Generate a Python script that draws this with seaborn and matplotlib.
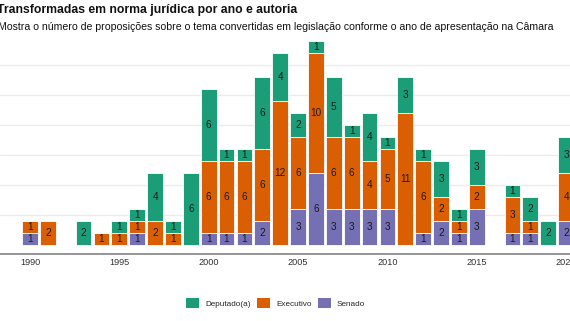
import numpy as np
import pandas as pd
import matplotlib
matplotlib.use("Agg")
import matplotlib.pyplot as plt
from matplotlib.patches import Patch
import seaborn as sns

# ---- data ----
anos = [1990, 1991, 1993, 1994, 1995, 1996, 1997, 1998, 1999, 2000, 2001, 2002,
        2003, 2004, 2005, 2006, 2007, 2008, 2009, 2010, 2011, 2012, 2013, 2014,
        2015, 2017, 2018, 2019, 2020]
senado    = [1, 0, 0, 0, 0, 1, 0, 0, 0, 1, 1, 1, 2, 0, 3, 6, 3, 3, 3, 3, 0, 1, 2, 1, 3, 1, 1, 0, 2]
executivo = [1, 2, 0, 1, 1, 1, 2, 1, 0, 6, 6, 6, 6, 12, 6, 10, 6, 6, 4, 5, 11, 6, 2, 1, 2, 3, 1, 0, 4]
deputado  = [0, 0, 2, 0, 1, 1, 4, 1, 6, 6, 1, 1, 6, 4, 2, 1, 5, 1, 4, 1, 3, 1, 3, 1, 3, 1, 2, 2, 3]

autorias = ["Deputado(a)", "Executivo", "Senado"]
cores = {"Deputado(a)": "#1b9e77", "Executivo": "#d95f02", "Senado": "#7570b3"}
x_ticks = [1990, 1995, 2000, 2005, 2010, 2015, 2020]

titulo = "Transformadas em norma jurídica por ano e autoria"
subtitulo = ("Mostra o número de proposições sobre o tema convertidas em legislação "
             "conforme o ano de apresentação na Câmara")

rows = []
for a, s, e, d in zip(anos, senado, executivo, deputado):
    for lab, v in (("Deputado(a)", d), ("Executivo", e), ("Senado", s)):
        if v > 0:
            rows.append({"ano": a, "autoria": lab, "n": v})
df = pd.DataFrame(rows)

# ---- figure ----
sns.set_theme(style="white")
plt.rcParams["font.family"] = ["Liberation Sans", "DejaVu Sans"]

W, H = 570, 321
fig = plt.figure(figsize=(W / 100, H / 100), dpi=100)

def px(x, y):
    return x / W, 1 - y / H

ax_bottom_px, ax_top_px = 254, 37
zero_px, unit_px = 244.5, 12.0
ax = fig.add_axes([0, 1 - ax_bottom_px / H, 1, (ax_bottom_px - ax_top_px) / H])

sns.histplot(data=df, x="ano", weights="n", hue="autoria", hue_order=autorias,
             multiple="stack", discrete=True, shrink=0.88, palette=cores,
             alpha=1, edgecolor="white", linewidth=0.6, legend=False, ax=ax, zorder=2)

# value labels
for i, a in enumerate(anos):
    base = 0
    for v in (senado[i], executivo[i], deputado[i]):
        if v > 0:
            ax.text(a, base + v / 2, str(v), ha="center", va="center",
                    fontsize=7.2, color="#1a1a1a", zorder=3)
        base += v

# axes styling
px_per_year = 17.87
ax.set_xlim(1990 - 30 / px_per_year, 1990 + (W - 30) / px_per_year)
ax.set_ylim(-(ax_bottom_px - zero_px) / unit_px, (zero_px - ax_top_px) / unit_px)
ax.set_yticks(np.arange(2.5, 17.5, 2.5))
ax.yaxis.grid(True, color="#ebebeb", linewidth=1.0, zorder=0)
ax.set_axisbelow(True)
ax.tick_params(axis="y", left=False, labelleft=False)
ax.set_xticks(x_ticks)
ax.set_xticklabels([str(t) for t in x_ticks])
ax.tick_params(axis="x", bottom=True, length=0, labelsize=6.6, colors="#333333", pad=3)
for sp in ("top", "left", "right"):
    ax.spines[sp].set_visible(False)
ax.spines["bottom"].set_color("#8c8c8c")
ax.spines["bottom"].set_linewidth(1.3)
ax.set_xlabel("")
ax.set_ylabel("")

# title & subtitle
fig.text(*px(-3, 10), titulo, fontsize=8.8, fontweight="bold", color="#111111",
         ha="left", va="center")
fig.text(*px(-2, 27), subtitulo, fontsize=7.6, color="#111111", ha="left", va="center")

# legend
handles = [Patch(facecolor=cores[k], edgecolor="none", label=k) for k in autorias]
fig.legend(handles=handles, loc="center", bbox_to_anchor=px(275.5, 303), ncol=3,
           frameon=False, fontsize=5.9, handlelength=1.6, handleheight=1.6,
           handletextpad=0.75, columnspacing=0.75)

fig.savefig("out.png", dpi=100)
